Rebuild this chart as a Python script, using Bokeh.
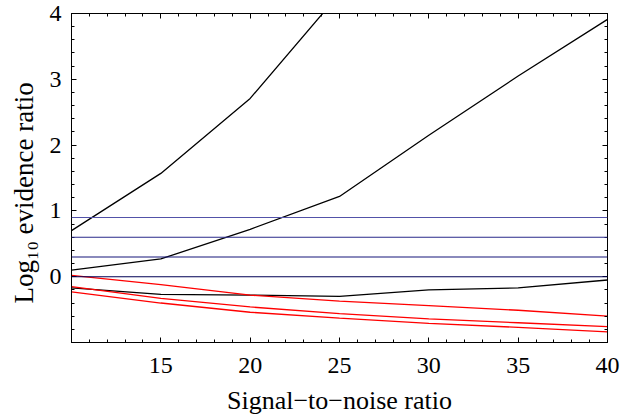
import numpy as np
from bokeh.plotting import figure
from bokeh.models import Range1d, FixedTicker, LinearAxis, Span, Title
from bokeh.embed import file_html
from bokeh.resources import INLINE

# ---- data ----
snr = [10, 15, 20, 25, 30, 35, 40]
snr_a = [10, 15, 20, 25]
black_a = [0.70, 1.57, 2.71, 4.30]
black_b = [0.10, 0.27, 0.72, 1.22, 2.15, 3.05, 3.91]
black_c = [-0.17, -0.27, -0.28, -0.30, -0.20, -0.17, -0.05]
red_1 = [0.02, -0.12, -0.28, -0.37, -0.44, -0.51, -0.60]
red_2 = [-0.15, -0.33, -0.46, -0.56, -0.64, -0.70, -0.76]
red_3 = [-0.23, -0.40, -0.54, -0.63, -0.71, -0.77, -0.84]
thresholds = [0.0, 0.3, 0.6, 0.9]
threshold_colors = ["#000055", "#16167a", "#2a2a8a", "#5252a8"]

x_ticks = [15, 20, 25, 30, 35, 40]
y_ticks = [0, 1, 2, 3, 4]
x_minor = list(range(10, 41))
y_minor = [round(v, 1) for v in np.arange(-1.0, 4.01, 0.2)]

FONT = "Liberation Serif"

p = figure(width=631, height=417, output_backend="svg", toolbar_location=None,
           x_range=Range1d(10, 40), y_range=Range1d(-1, 4),
           min_border_left=71, min_border_right=24, min_border_top=13,
           min_border_bottom=74)
p.xgrid.grid_line_color = None
p.ygrid.grid_line_color = None
p.outline_line_color = "black"
p.background_fill_color = "white"
p.border_fill_color = "white"

def style_axis(ax, ticks, minor, show_labels):
    ax.ticker = FixedTicker(ticks=ticks, minor_ticks=minor)
    ax.axis_line_color = "black"
    ax.major_tick_line_color = "black"
    ax.minor_tick_line_color = "black"
    ax.major_tick_in = 5
    ax.major_tick_out = 0
    ax.minor_tick_in = 3
    ax.minor_tick_out = 0
    ax.major_label_text_font = FONT
    if show_labels:
        ax.major_label_text_color = "black"
        ax.major_label_text_font_size = "24px"
        ax.major_label_standoff = 10
    else:
        ax.major_label_text_color = None
        ax.major_label_text_font_size = "1px"
        ax.major_label_standoff = 0

xa = p.xaxis[0]
style_axis(xa, x_ticks, x_minor, True)
xa.major_label_standoff = 15
xa.axis_label = "Signal\u2212to\u2212noise ratio"
xa.axis_label_text_font = FONT
xa.axis_label_text_font_size = "26px"
xa.axis_label_text_font_style = "normal"
xa.axis_label_text_color = "black"
xa.axis_label_standoff = 10

style_axis(p.yaxis[0], y_ticks, y_minor, True)
p.yaxis[0].major_label_standoff = 10

top = LinearAxis()
style_axis(top, x_ticks, x_minor, False)
p.add_layout(top, "above")
right = LinearAxis()
style_axis(right, y_ticks, y_minor, False)
p.add_layout(right, "right")

for v, c in zip(thresholds, threshold_colors):
    p.add_layout(Span(location=v, dimension="width", line_color=c, line_width=1.1))

p.line(snr_a, black_a, line_color="black", line_width=1.3)
p.line(snr, black_b, line_color="black", line_width=1.3)
p.line(snr, black_c, line_color="black", line_width=1.3)
for ys in (red_1, red_2, red_3):
    p.line(snr, ys, line_color="#ff0000", line_width=1.3)

p.add_layout(Title(text="Log\u2081\u2080 evidence ratio", align="left", offset=39,
                   vertical_align="top",
                   text_font=FONT, text_font_size="27px", text_font_style="normal",
                   text_color="black", standoff=12), "left")

open("out.html", "w").write(file_html(p, INLINE))
